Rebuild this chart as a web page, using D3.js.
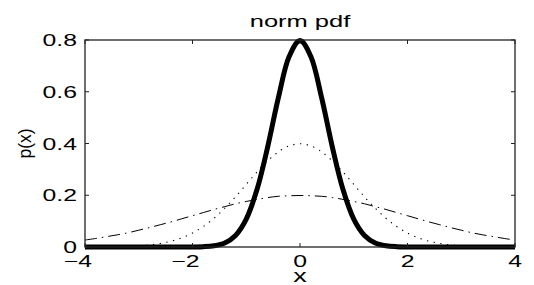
<!DOCTYPE html>
<html>
<head>
<meta charset="utf-8">
<script src="https://cdn.jsdelivr.net/npm/d3@7"></script>
<style>
  body { margin: 0; background: #fff; }
  text { font-family: "Liberation Sans", Arial, Helvetica, sans-serif; fill: #000; }
</style>
</head>
<body>
<div id="chart"></div>
<script>
// x positions the curves were read at
var xs = [-4, -3.8, -3.6, -3.4, -3.2, -3, -2.8, -2.6, -2.4, -2.2, -2, -1.8, -1.6, -1.4, -1.2, -1, -0.8, -0.6, -0.4, -0.2,
          0, 0.2, 0.4, 0.6, 0.8, 1, 1.2, 1.4, 1.6, 1.8, 2, 2.2, 2.4, 2.6, 2.8, 3, 3.2, 3.4, 3.6, 3.8, 4];

// thick solid curve (narrow)
var narrowVals = [0, 0, 0, 0, 0, 0, 0, 0, 0, 0, 0.0003, 0.0012, 0.0048, 0.0158, 0.0448, 0.108, 0.222, 0.388, 0.579, 0.737,
                  0.798, 0.737, 0.579, 0.388, 0.222, 0.108, 0.0448, 0.0158, 0.0048, 0.0012, 0.0003, 0, 0, 0, 0, 0, 0, 0, 0, 0, 0];

// dotted curve
var midVals = [0.0001, 0.0003, 0.0006, 0.0012, 0.0024, 0.0044, 0.0079, 0.0136, 0.0224, 0.0355, 0.054, 0.079, 0.111, 0.150, 0.194, 0.242, 0.290, 0.333, 0.368, 0.391,
               0.399, 0.391, 0.368, 0.333, 0.290, 0.242, 0.194, 0.150, 0.111, 0.079, 0.054, 0.0355, 0.0224, 0.0136, 0.0079, 0.0044, 0.0024, 0.0012, 0.0006, 0.0003, 0.0001];

// dash-dot curve (wide)
var wideVals = [0.027, 0.033, 0.040, 0.047, 0.055, 0.065, 0.075, 0.086, 0.097, 0.109, 0.121, 0.133, 0.145, 0.156, 0.167, 0.176, 0.184, 0.191, 0.196, 0.198,
                0.199, 0.198, 0.196, 0.191, 0.184, 0.176, 0.167, 0.156, 0.145, 0.133, 0.121, 0.109, 0.097, 0.086, 0.075, 0.065, 0.055, 0.047, 0.040, 0.033, 0.027];

var xTicks = [-4, -2, 0, 2, 4];
var yTicks = [0, 0.2, 0.4, 0.6, 0.8];
var yTickLabels = ['0', '0.2', '0.4', '0.6', '0.8'];

(function () {
  var W = 534, H = 285,
      margin = {top: 40, right: 19, bottom: 38, left: 85},
      width = W - margin.left - margin.right,
      height = H - margin.top - margin.bottom,
      stretch = 1.5;

  var svg = d3.select('#chart').append('svg')
      .attr('width', W)
      .attr('height', H);

  var g = svg.append('g')
      .attr('transform', 'translate(' + margin.left + ',' + margin.top + ')');

  var x = d3.scaleLinear().domain([-4, 4]).range([0, width]),
      y = d3.scaleLinear().domain([0, 0.8]).range([height, 0]);

  g.append('clipPath').attr('id', 'clip')
    .append('rect')
      .attr('x', 0).attr('y', -4)
      .attr('width', width).attr('height', height + 8);

  function series(vals) {
    return xs.map(function (d, i) { return [d, vals[i]]; });
  }

  var line = d3.line()
      .x(function (d) { return x(d[0]); })
      .y(function (d) { return y(d[1]); })
      .curve(d3.curveCatmullRom.alpha(0.5));

  var curves = g.append('g').attr('clip-path', 'url(#clip)');

  curves.append('path')
      .attr('d', line(series(wideVals)))
      .attr('fill', 'none')
      .attr('stroke', '#000')
      .attr('stroke-width', 1)
      .attr('stroke-dasharray', '12,5,1.5,5');

  curves.append('path')
      .attr('d', line(series(midVals)))
      .attr('fill', 'none')
      .attr('stroke', '#000')
      .attr('stroke-width', 1.1)
      .attr('stroke-dasharray', '1.3,5.5');

  // frame
  g.append('rect')
      .attr('width', width)
      .attr('height', height)
      .attr('fill', 'none')
      .attr('stroke', '#222')
      .attr('stroke-width', 1.3);

  curves.append('path')
      .attr('d', line(series(narrowVals)))
      .attr('fill', 'none')
      .attr('stroke', '#000')
      .attr('stroke-width', 5)
      .attr('stroke-linejoin', 'round');

  // inward ticks on all four sides
  var tickLen = 4;
  xTicks.forEach(function (t) {
    g.append('line').attr('x1', x(t)).attr('x2', x(t)).attr('y1', height).attr('y2', height - tickLen)
      .attr('stroke', '#222');
    g.append('line').attr('x1', x(t)).attr('x2', x(t)).attr('y1', 0).attr('y2', tickLen)
      .attr('stroke', '#222');
  });
  yTicks.forEach(function (t) {
    g.append('line').attr('x1', 0).attr('x2', tickLen).attr('y1', y(t)).attr('y2', y(t))
      .attr('stroke', '#222');
    g.append('line').attr('x1', width).attr('x2', width - tickLen).attr('y1', y(t)).attr('y2', y(t))
      .attr('stroke', '#222');
  });

  // tick labels (wide, stretched text as in the reference)
  g.selectAll('.xlab')
    .data(xTicks)
    .enter().append('text')
      .attr('class', 'xlab')
      .attr('transform', function (d) {
        return 'translate(' + (x(d) + 7) + ',' + (height + 20) + ') scale(' + stretch + ',1)';
      })
      .attr('text-anchor', 'end')
      .style('font-size', '16.5px')
      .text(function (d) { return d < 0 ? '\u2212' + Math.abs(d) : d; });

  g.selectAll('.ylab')
    .data(yTicks)
    .enter().append('text')
      .attr('class', 'ylab')
      .attr('transform', function (d) {
        return 'translate(-8,' + (y(d) + 6) + ') scale(' + stretch + ',1)';
      })
      .attr('text-anchor', 'end')
      .style('font-size', '16.5px')
      .text(function (d, i) { return yTickLabels[i]; });

  // title and axis labels
  svg.append('text')
      .attr('transform', 'translate(' + (margin.left + width / 2) + ',27) scale(' + stretch + ',1)')
      .attr('text-anchor', 'middle')
      .style('font-size', '17px')
      .text('norm pdf');

  svg.append('text')
      .attr('transform', 'translate(' + (margin.left + width / 2) + ',282) scale(' + stretch + ',1)')
      .attr('text-anchor', 'middle')
      .style('font-size', '18px')
      .text('x');

  svg.append('text')
      .attr('transform', 'translate(31,143.5) rotate(-90)')
      .attr('text-anchor', 'middle')
      .style('font-size', '17.5px')
      .text('p(x)');
})();
</script>
</body>
</html>
